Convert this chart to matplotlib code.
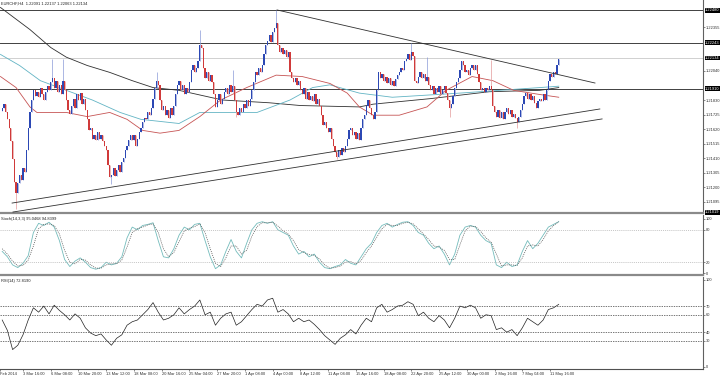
#!/usr/bin/env python3

import numpy as np
import matplotlib.pyplot as plt
from matplotlib.transforms import blended_transform_factory

plt.rcParams['font.family'] = ['Liberation Sans', 'DejaVu Sans']

title_text = "EURCHF,H4  1.22091 1.22137 1.22063 1.22134"
stoch_text = "Stoch(14,3,3) 95.0468 94.8399"
rsi_text = "RSI(14) 72.8190"

# H4 closes, one per bar (bar 0 = late Feb 2014)
first_open = 1.2175
closes = [
    1.2177, 1.2180, 1.2174, 1.2169, 1.2163, 1.2153, 1.2140, 1.2124, 1.2116, 1.2123,
    1.2129, 1.2125, 1.2134, 1.2131, 1.2147, 1.2163, 1.2174, 1.2183, 1.2190, 1.2186,
    1.2189, 1.2185, 1.2192, 1.2187, 1.2183, 1.2189, 1.2193, 1.2190, 1.2196, 1.2199,
    1.2192, 1.2197, 1.2189, 1.2194, 1.2187, 1.2197, 1.2190, 1.2183, 1.2176, 1.2173,
    1.2179, 1.2184, 1.2177, 1.2187, 1.2183, 1.2188, 1.2180, 1.2184, 1.2176, 1.2169,
    1.2161, 1.2163, 1.2155, 1.2158, 1.2154, 1.2160, 1.2155, 1.2158, 1.2153, 1.2150,
    1.2147, 1.2136, 1.2127, 1.2129, 1.2134, 1.2128, 1.2132, 1.2136, 1.2131, 1.2138,
    1.2141, 1.2147, 1.2150, 1.2154, 1.2158, 1.2154, 1.2158, 1.2150, 1.2155, 1.2160,
    1.2163, 1.2167, 1.2170, 1.2169, 1.2174, 1.2172, 1.2177, 1.2184, 1.2192, 1.2197,
    1.2194, 1.2183, 1.2176, 1.2179, 1.2172, 1.2176, 1.2170, 1.2177, 1.2172, 1.2179,
    1.2187, 1.2194, 1.2197, 1.2190, 1.2194, 1.2187, 1.2192, 1.2189, 1.2196, 1.2205,
    1.2208, 1.2203, 1.2206, 1.2211, 1.2223, 1.2221, 1.2206, 1.2199, 1.2203, 1.2197,
    1.2201, 1.2196, 1.2187, 1.2178, 1.2183, 1.2187, 1.2180, 1.2184, 1.2189, 1.2192,
    1.2187, 1.2194, 1.2189, 1.2193, 1.2183, 1.2174, 1.2172, 1.2177, 1.2174, 1.2180,
    1.2177, 1.2183, 1.2179, 1.2184, 1.2190, 1.2196, 1.2203, 1.2201, 1.2206, 1.2203,
    1.2208, 1.2216, 1.2223, 1.2226, 1.2230, 1.2225, 1.2232, 1.2235, 1.2239, 1.2223,
    1.2218, 1.2221, 1.2216, 1.2219, 1.2214, 1.2218, 1.2203, 1.2199, 1.2196, 1.2199,
    1.2194, 1.2197, 1.2190, 1.2187, 1.2192, 1.2184, 1.2189, 1.2183, 1.2186, 1.2182,
    1.2187, 1.2180, 1.2184, 1.2179, 1.2172, 1.2165, 1.2167, 1.2163, 1.2160, 1.2163,
    1.2155, 1.2150, 1.2145, 1.2142, 1.2147, 1.2143, 1.2148, 1.2145, 1.2150, 1.2155,
    1.2161, 1.2163, 1.2158, 1.2160, 1.2155, 1.2159, 1.2154, 1.2163, 1.2169, 1.2172,
    1.2179, 1.2183, 1.2177, 1.2172, 1.2169, 1.2174, 1.2190, 1.2203, 1.2199, 1.2202,
    1.2197, 1.2200, 1.2195, 1.2199, 1.2194, 1.2197, 1.2193, 1.2198, 1.2201, 1.2203,
    1.2206, 1.2205, 1.2211, 1.2213, 1.2216, 1.2212, 1.2218, 1.2215, 1.2197, 1.2195,
    1.2200, 1.2203, 1.2199, 1.2202, 1.2197, 1.2200, 1.2194, 1.2190, 1.2193, 1.2187,
    1.2192, 1.2189, 1.2193, 1.2187, 1.2190, 1.2193, 1.2188, 1.2183, 1.2177, 1.2180,
    1.2186, 1.2192, 1.2196, 1.2199, 1.2205, 1.2211, 1.2208, 1.2203, 1.2205, 1.2201,
    1.2206, 1.2208, 1.2205, 1.2208, 1.2202, 1.2196, 1.2190, 1.2192, 1.2189, 1.2192,
    1.2190, 1.2193, 1.2190, 1.2179, 1.2174, 1.2171, 1.2176, 1.2170, 1.2174, 1.2169,
    1.2174, 1.2177, 1.2173, 1.2176, 1.2171, 1.2173, 1.2170, 1.2167, 1.2171, 1.2176,
    1.2180, 1.2186, 1.2188, 1.2184, 1.2187, 1.2183, 1.2186, 1.2181, 1.2177, 1.2182,
    1.2184, 1.2182, 1.2187, 1.2183, 1.2190, 1.2197, 1.2202, 1.2200, 1.2203, 1.2202,
    1.2208, 1.2213,
]
# long wicks that stand out
spike_high = {29: 1.2213, 35: 1.2213, 89: 1.2203, 114: 1.2234, 133: 1.2205,
              158: 1.2248, 236: 1.2224, 245: 1.2214, 282: 1.2212}
spike_low = {8: 1.2104, 63: 1.2122, 135: 1.2171, 193: 1.2140, 258: 1.2171, 297: 1.2163}

# moving averages (bar, price)
ma_black_bar = [-1, 16, 28, 37, 49, 62, 75, 87, 102, 127, 154, 172, 206, 214, 247, 281, 310, 321]
ma_black = [1.2250, 1.2234, 1.2221, 1.2214, 1.2208, 1.2203, 1.2197, 1.2192, 1.2190, 1.2183,
            1.2181, 1.2179, 1.2178, 1.2180, 1.2184, 1.2189, 1.2190, 1.2192]
ma_teal_bar = [-1, 10, 22, 37, 52, 68, 80, 102, 114, 147, 166, 179, 189, 206, 225, 264, 310, 321]
ma_teal = [1.2216, 1.2208, 1.2197, 1.2190, 1.2183, 1.2174, 1.2169, 1.2166, 1.2174, 1.2174,
           1.2183, 1.2192, 1.2194, 1.2188, 1.2185, 1.2188, 1.2192, 1.2193]
ma_red_bar = [-1, 8, 16, 20, 37, 49, 62, 72, 81, 91, 102, 114, 126, 141, 158, 173, 189, 199,
              206, 214, 229, 245, 256, 271, 283, 295, 310, 321]
ma_red = [1.2200, 1.2192, 1.2178, 1.2174, 1.2174, 1.2171, 1.2174, 1.2169, 1.2161, 1.2159,
          1.2161, 1.2171, 1.2183, 1.2192, 1.2201, 1.2200, 1.2195, 1.2188, 1.2178, 1.2172,
          1.2172, 1.2178, 1.2190, 1.2200, 1.2197, 1.2190, 1.2187, 1.2185]

# drawn objects: trend lines and horizontal levels
trend_up1_bar = [5.7, 344.7]
trend_up1 = [1.21084, 1.21765]
trend_up2_bar = [6.2, 346.0]
trend_up2 = [1.21019, 1.21693]
trend_down_bar = [158.5, 341.9]
trend_down = [1.22482, 1.21953]
levels = [1.22480, 1.22243, 1.21910, 1.21019]
last_price = 1.22134

price_ticks = [1.22355, 1.22040, 1.21830, 1.21725, 1.21620, 1.21515, 1.21410,
               1.21305, 1.21200, 1.21095]

# oscillators, sampled every 3 bars
osc_bar = list(range(0, 322, 3))
stoch_k = [40, 30, 15, 10, 18, 32, 75, 92, 88, 94, 85, 60, 25, 12, 22, 28, 20, 10, 7, 10,
           20, 15, 18, 30, 65, 85, 80, 88, 90, 93, 60, 30, 28, 45, 70, 85, 80, 90, 92, 60,
           30, 8, 15, 40, 62, 40, 28, 55, 80, 92, 95, 92, 95, 80, 75, 70, 50, 35, 40, 30,
           35, 20, 10, 8, 12, 15, 25, 18, 15, 30, 45, 55, 75, 88, 92, 85, 90, 94, 95, 88,
           75, 70, 55, 45, 50, 35, 15, 35, 70, 85, 88, 85, 70, 60, 55, 15, 10, 20, 12, 15,
           40, 60, 45, 55, 70, 85, 90, 95]
stoch_d = [45, 35, 22, 13, 14, 24, 50, 82, 90, 91, 88, 72, 42, 20, 17, 25, 24, 15, 9, 9,
           15, 17, 17, 24, 48, 75, 82, 85, 89, 91, 75, 45, 30, 38, 58, 78, 83, 86, 91, 75,
           45, 18, 12, 28, 50, 50, 35, 42, 68, 86, 93, 93, 94, 87, 78, 72, 60, 43, 38, 34,
           33, 26, 15, 9, 10, 13, 20, 21, 17, 23, 38, 50, 66, 82, 90, 88, 88, 92, 94, 91,
           82, 72, 62, 50, 48, 42, 25, 25, 52, 78, 87, 86, 77, 65, 57, 35, 13, 15, 15, 14,
           28, 50, 52, 50, 62, 78, 88, 95]
rsi = [54, 42, 20, 25, 37, 54, 68, 63, 70, 61, 71, 65, 60, 54, 61, 56, 45, 39, 36, 38,
       31, 25, 33, 37, 48, 52, 54, 60, 66, 74, 63, 54, 56, 60, 68, 61, 66, 70, 77, 60,
       63, 48, 56, 61, 63, 48, 52, 59, 66, 72, 70, 77, 79, 63, 66, 61, 52, 56, 52, 54,
       49, 43, 36, 31, 26, 33, 37, 43, 38, 48, 56, 52, 68, 72, 63, 66, 70, 71, 75, 72,
       59, 63, 56, 52, 59, 54, 45, 56, 70, 68, 71, 68, 56, 60, 59, 43, 45, 40, 43, 36,
       45, 56, 52, 48, 54, 66, 68, 72]

date_bar = [-1, 12, 28, 44, 60, 76, 92, 108, 124, 140, 156, 172, 188, 204, 220, 236, 252,
            268, 284, 300, 316]
date_labels = ["Feb 2014", "3 Mar 16:00", "6 Mar 08:00", "10 Mar 20:00", "13 Mar 12:00",
               "18 Mar 08:00", "20 Mar 16:00", "25 Mar 04:00", "27 Mar 20:00", "1 Apr 08:00",
               "4 Apr 00:00", "8 Apr 12:00", "11 Apr 04:00", "15 Apr 16:00", "18 Apr 08:00",
               "22 Apr 20:00", "25 Apr 12:00", "30 Apr 00:00", "2 May 16:00", "7 May 04:00",
               "11 May 16:00"]

W, H = 720, 376
fig = plt.figure(figsize=(W / 100, H / 100), dpi=100)
fig.patch.set_facecolor("white")


def panel(top, bottom):
    return fig.add_axes([0, 1 - bottom / H, 703 / W, (bottom - top) / H])


ax = panel(0, 213)
ax_st = panel(215, 275)
ax_rsi = panel(277, 369)
XLIM = (-1.27, 404.2)
FS = 2.9

for a in (ax, ax_st, ax_rsi):
    a.set_xlim(*XLIM)
    a.set_facecolor("white")
    a.spines["top"].set_visible(False)
    a.spines["left"].set_visible(False)
    a.spines["right"].set_color("#606060")
    a.spines["right"].set_linewidth(0.8)
    a.yaxis.tick_right()
    a.tick_params(axis="y", labelsize=FS, length=1.5, width=0.4, pad=0.8, colors="#303030")
for a in (ax, ax_st):
    a.spines["bottom"].set_color("#8a8a8a")
    a.spines["bottom"].set_linewidth(1.6)
    a.set_xticks([])
ax_rsi.spines["bottom"].set_color("#505050")
ax_rsi.spines["bottom"].set_linewidth(0.8)

# ---- price panel
ax.set_ylim(1.21012, 1.22554)
n = len(closes)
bars = np.arange(n)
cl = np.array(closes)
op = np.array([first_open] + closes[:-1])
hi = np.maximum(op, cl)
lo = np.minimum(op, cl)
for i, v in spike_high.items():
    hi[i] = v
for i, v in spike_low.items():
    lo[i] = v
up = cl >= op
body_col = np.where(up, "#2c48b4", "#d03a3a")
wick_col = np.where(up, "#8a9ad8", "#e39a9a")
ax.vlines(bars, lo, hi, colors=wick_col, lw=0.5, zorder=3)
ax.bar(bars, cl - op, bottom=op, width=0.72, color=body_col, linewidth=0, zorder=4)

ax.plot(ma_black_bar, ma_black, color="#303030", lw=0.6, zorder=2)
ax.plot(ma_teal_bar, ma_teal, color="#62b4c4", lw=0.6, zorder=2)
ax.plot(ma_red_bar, ma_red, color="#c65454", lw=0.6, zorder=2)

for tb, tp in ((trend_up1_bar, trend_up1), (trend_up2_bar, trend_up2), (trend_down_bar, trend_down)):
    ax.plot(tb, tp, color="#303030", lw=0.6, zorder=5)

for lv in levels:
    ax.axhline(lv, color="#404040", lw=0.7, zorder=1)
ax.axhline(last_price, color="#d0d0d0", lw=0.7, zorder=1)

ax.set_yticks(price_ticks)
ax.set_yticklabels(["%.5f" % t for t in price_ticks])
bt = blended_transform_factory(ax.transAxes, ax.transData)
for lv in levels + [last_price]:
    ax.text(1.003, lv, "%.5f" % lv, transform=bt, fontsize=FS, color="white", va="center",
            ha="left", clip_on=False, zorder=10,
            bbox=dict(boxstyle="square,pad=0.12", fc="black", ec="none"))
ax.text(0.002, 0.995, title_text, transform=ax.transAxes, fontsize=FS, va="top", ha="left",
        color="#202020")

# ---- stochastic
ax_st.set_ylim(-3.7, 107.4)
ax_st.plot(osc_bar, stoch_k, color="#74bcbc", lw=0.6)
ax_st.plot(osc_bar, stoch_d, color="#505050", lw=0.5, linestyle=(0, (1.5, 1.5)))
for lv in (80, 20):
    ax_st.axhline(lv, color="#b0b0b0", lw=0.5, linestyle=(0, (1.5, 1.5)))
ax_st.set_yticks([100, 80, 20, 0])
ax_st.text(0.002, 0.96, stoch_text, transform=ax_st.transAxes, fontsize=FS, va="top",
           color="#202020")

# ---- RSI
ax_rsi.set_ylim(-2.3, 103.4)
ax_rsi.plot(osc_bar, rsi, color="#202020", lw=0.5)
for lv in (70, 60, 40, 30):
    ax_rsi.axhline(lv, color="#404040", lw=0.5, linestyle=(0, (2, 1.5)))
ax_rsi.set_yticks([100, 70, 60, 40, 30, 0])
ax_rsi.text(0.002, 0.98, rsi_text, transform=ax_rsi.transAxes, fontsize=FS, va="top",
            color="#202020")
ax_rsi.set_xticks(date_bar)
ax_rsi.set_xticklabels(date_labels, ha="left")
ax_rsi.tick_params(axis="x", labelsize=FS, length=1.5, width=0.4, pad=0.5, colors="#303030")

fig.savefig("out.png", dpi=100, facecolor="white")
